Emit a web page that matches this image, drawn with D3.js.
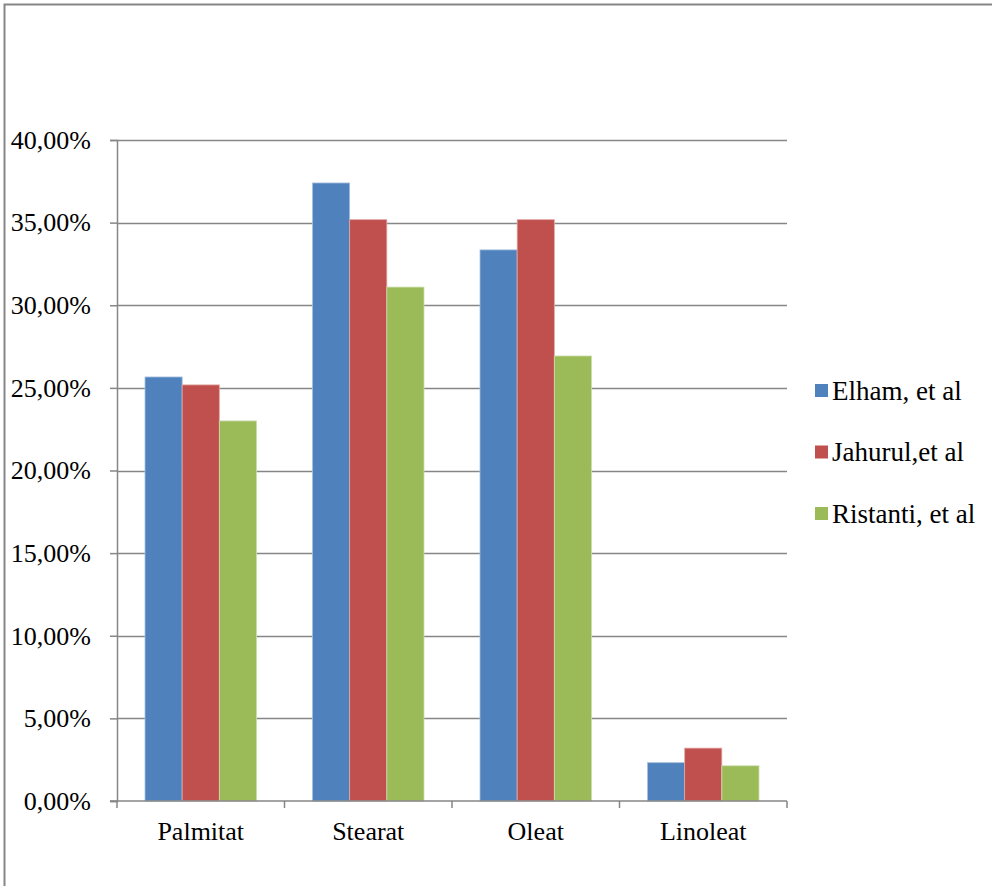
<!DOCTYPE html>
<html>
<head>
<meta charset="utf-8">
<script src="https://cdn.jsdelivr.net/npm/d3@7"></script>
<style>
  html, body { margin: 0; padding: 0; background: #fff; }
  svg { display: block; }
  text { font-family: "Liberation Serif", "Times New Roman", serif; fill: #000; }
</style>
</head>
<body>
<svg id="chart" width="992" height="886"></svg>
<script>
// Fatty acid composition reported by three studies
const categories = ["Palmitat", "Stearat", "Oleat", "Linoleat"];
const seriesNames = ["Elham, et al", "Jahurul,et al", "Ristanti, et al"];
const elham    = [25.66, 37.40, 33.35, 2.32];
const jahurul  = [25.18, 35.18, 35.18, 3.20];
const ristanti = [23.00, 31.10, 26.93, 2.13];
const yTicks   = [0, 5, 10, 15, 20, 25, 30, 35, 40];
const colors   = ["#4F81BD", "#C0504D", "#9BBB59"];
const edges    = ["#A7C0DE", "#E0A8A6", "#CDDDAC"];

const seriesValues = [elham, jahurul, ristanti];

const svg = d3.select("#chart");
const gridColor = "#868686";
const fontSize = "26px";

// Outer frame of the chart area
svg.append("path")
  .attr("d", "M4.5,886 V4.5 H992")
  .attr("fill", "none")
  .attr("stroke", gridColor)
  .attr("stroke-width", 2);

const plot = { left: 117, right: 787, top: 140, bottom: 801 };

const x0 = d3.scaleBand().domain(categories).range([plot.left, plot.right]).paddingInner(0).paddingOuter(0);
const x1 = d3.scaleBand().domain(seriesNames).range([28, x0.bandwidth() - 28]).padding(0);
const y = d3.scaleLinear().domain([0, 40]).range([plot.bottom, plot.top]);

const fmt = v => d3.format(".2f")(v).replace(".", ",") + "%";

// Horizontal gridlines
svg.append("g")
  .selectAll("line")
  .data(yTicks.filter(t => t > 0))
  .join("line")
  .attr("x1", plot.left).attr("x2", plot.right)
  .attr("y1", d => Math.round(y(d)) + 0.5).attr("y2", d => Math.round(y(d)) + 0.5)
  .attr("stroke", gridColor).attr("stroke-width", 1.5);

// Bars
const groups = svg.append("g")
  .selectAll("g")
  .data(categories.map((c, i) => ({ c, vals: seriesValues.map((s, k) => ({ name: seriesNames[k], v: s[i], k })) })))
  .join("g")
  .attr("transform", d => `translate(${x0(d.c)},0)`);

groups.selectAll("rect")
  .data(d => d.vals)
  .join("rect")
  .attr("x", d => x1(d.name))
  .attr("y", d => y(d.v))
  .attr("width", x1.bandwidth())
  .attr("height", d => y(0) - y(d.v))
  .attr("fill", d => colors[d.k])
  .attr("stroke", d => edges[d.k])
  .attr("stroke-width", 0.8);

// Y axis
const yAxis = svg.append("g")
  .attr("transform", `translate(${plot.left},0)`)
  .call(d3.axisLeft(y).tickValues(yTicks).tickFormat(fmt).tickSize(7).tickPadding(19));
yAxis.select(".domain").attr("stroke", gridColor).attr("stroke-width", 1.5);
yAxis.selectAll(".tick line").attr("stroke", gridColor).attr("stroke-width", 1.5);
yAxis.selectAll(".tick text")
  .style("font-family", "'Liberation Serif', 'Times New Roman', serif")
  .style("font-size", fontSize).attr("fill", "#000");

// X axis with ticks at category boundaries
const xAxis = svg.append("g").attr("transform", `translate(0,${plot.bottom})`);
xAxis.append("line")
  .attr("x1", plot.left - 7).attr("x2", plot.right)
  .attr("y1", 0).attr("y2", 0)
  .attr("stroke", gridColor).attr("stroke-width", 1.5);
const bounds = categories.map(c => x0(c)).concat([x0(categories[categories.length - 1]) + x0.bandwidth()]);
xAxis.selectAll("line.tk")
  .data(bounds)
  .join("line")
  .attr("class", "tk")
  .attr("x1", d => d).attr("x2", d => d)
  .attr("y1", 0).attr("y2", 7)
  .attr("stroke", gridColor).attr("stroke-width", 1.5);
xAxis.selectAll("text")
  .data(categories)
  .join("text")
  .attr("x", d => x0(d) + x0.bandwidth() / 2)
  .attr("y", 39)
  .attr("text-anchor", "middle")
  .style("font-size", fontSize)
  .text(d => d);

// Legend
const legend = svg.append("g").attr("transform", "translate(815,391)");
const items = legend.selectAll("g")
  .data(seriesNames)
  .join("g")
  .attr("transform", (d, i) => `translate(0,${i * 61.5})`);
items.append("rect")
  .attr("x", 0).attr("y", -7).attr("width", 13).attr("height", 13)
  .attr("fill", (d, i) => colors[i]);
items.append("text")
  .attr("x", 17).attr("y", 8.5)
  .style("font-size", "27px")
  .text(d => d);
</script>
</body>
</html>
